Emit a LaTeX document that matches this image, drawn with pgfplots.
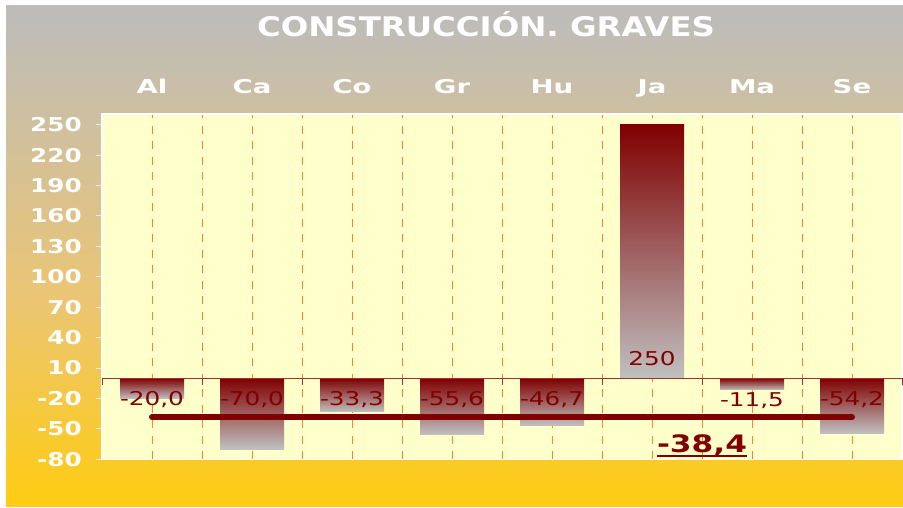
\documentclass[border=0pt]{standalone}
\usepackage{fontspec}
\setmainfont{DejaVu Sans}
\newfontfamily\ftitle{DejaVu Sans}[FakeStretch=1.2]
\newfontfamily\fxlab{DejaVu Sans}[FakeStretch=1.45]
\newfontfamily\fnum{DejaVu Sans}[FakeStretch=1.3]
\usepackage{pgfplots}
\pgfplotsset{compat=1.18}

\definecolor{plotbg}{RGB}{255,255,204}
\definecolor{darkred}{RGB}{128,0,0}
\definecolor{bargray}{RGB}{192,192,192}
\definecolor{gridorange}{RGB}{250,130,40}
\definecolor{bgtop}{RGB}{188,188,188}
\definecolor{bgmid}{RGB}{205,191,165}
\definecolor{bgtan}{RGB}{235,197,115}
\definecolor{bgyellow}{RGB}{255,204,17}

\pgfplotsset{shadedbar/.style={ybar, bar width=64pt, bar shift=0pt, draw=none,
  top color=darkred, bottom color=bargray}}

\begin{document}
\begin{tikzpicture}
\path[use as bounding box] (0,0) rectangle (903pt,-508pt);
\fill[white] (0,0) rectangle (903pt,-508pt);
% chart background
\shade[top color=bgtop, middle color=bgmid, bottom color=bgtan, draw=none]
  (6pt,-6pt) rectangle (903pt,-300pt);
\shade[top color=bgtan, bottom color=bgyellow, draw=none]
  (6pt,-300pt) rectangle (903pt,-506pt);

\node[anchor=base, text=white, font=\ftitle\bfseries\fontsize{27}{27}\selectfont]
  at (486pt,-37pt) {CONSTRUCCIÓN. GRAVES};

\begin{axis}[
    at={(102pt,-459.3pt)}, anchor=south west,
    scale only axis, width=800pt, height=345.3pt,
    xmin=-0.5, xmax=7.5, ymin=-80, ymax=260.6,
    axis background/.style={fill=plotbg},
    axis line style={white, line width=1.5pt},
    xtick={0,...,7},
    xticklabels={Al,Ca,Co,Gr,Hu,Ja,Ma,Se},
    xticklabel pos=upper,
    minor x tick num=1,
    xmajorgrids, xminorgrids,
    major grid style={gridorange, line width=1pt, dash pattern=on 8pt off 7.5pt},
    minor grid style={gridorange, line width=1pt, dash pattern=on 8pt off 7.5pt},
    x tick style={draw=none},
    xticklabel style={anchor=base, yshift=15pt, text=white,
      font=\fxlab\bfseries\fontsize{19}{19}\selectfont},
    ytick={-80,-50,-20,10,40,70,100,130,160,190,220,250},
    yticklabels={-80,-50,-20,10,40,70,100,130,160,190,220,250},
    ytick pos=left,
    tick align=outside,
    major tick length=6pt,
    y tick style={white!85!gray, line width=1pt},
    yticklabel style={anchor=east, inner sep=0pt, xshift=-14pt, text=white,
      font=\fnum\bfseries\fontsize{19}{19}\selectfont},
    clip=false,
]
% one plot per bar, so that each bar gets its own gradient
\addplot[shadedbar] coordinates {(0,-20.0)};
\addplot[shadedbar] coordinates {(1,-70.0)};
\addplot[shadedbar] coordinates {(2,-33.3)};
\addplot[shadedbar] coordinates {(3,-55.6)};
\addplot[shadedbar] coordinates {(4,-46.7)};
\addplot[shadedbar] coordinates {(5,250)};
\addplot[shadedbar] coordinates {(6,-11.5)};
\addplot[shadedbar] coordinates {(7,-54.2)};

% zero line with category ticks
\draw[darkred!80, line width=0.8pt] (axis cs:-0.5,0) -- (axis cs:7.5,0);
\pgfplotsinvokeforeach{-0.5,0.5,...,7.5}{
  \draw[darkred!80, line width=0.8pt] (axis cs:#1,0) -- ([yshift=-7pt]axis cs:#1,0);
}

% data labels
\addplot[draw=none, mark=none, nodes near coords, point meta=explicit symbolic,
  every node near coord/.style={anchor=center, text=darkred, inner sep=0pt,
    font=\fnum\fontsize{19}{19}\selectfont}]
  coordinates {(0,-21.5)[-20,0] (1,-21.5)[-70,0] (2,-21.5)[-33,3] (3,-21.5)[-55,6]
               (4,-21.5)[-46,7] (5,19.5)[250] (6,-22.5)[-11,5] (7,-21.5)[-54,2]};

% average line
\addplot[darkred, line width=6pt, line cap=round, mark=none]
  coordinates {(0,-38.4) (7,-38.4)};
\node[anchor=base, text=darkred, inner sep=0pt,
  font=\fnum\bfseries\fontsize{24}{24}\selectfont] (avg) at (axis cs:5.5,-73.7) {-38,4};
\draw[darkred, line width=2pt] ([yshift=-3.5pt]avg.base west) -- ([yshift=-3.5pt]avg.base east);
\end{axis}
\end{tikzpicture}
\end{document}
